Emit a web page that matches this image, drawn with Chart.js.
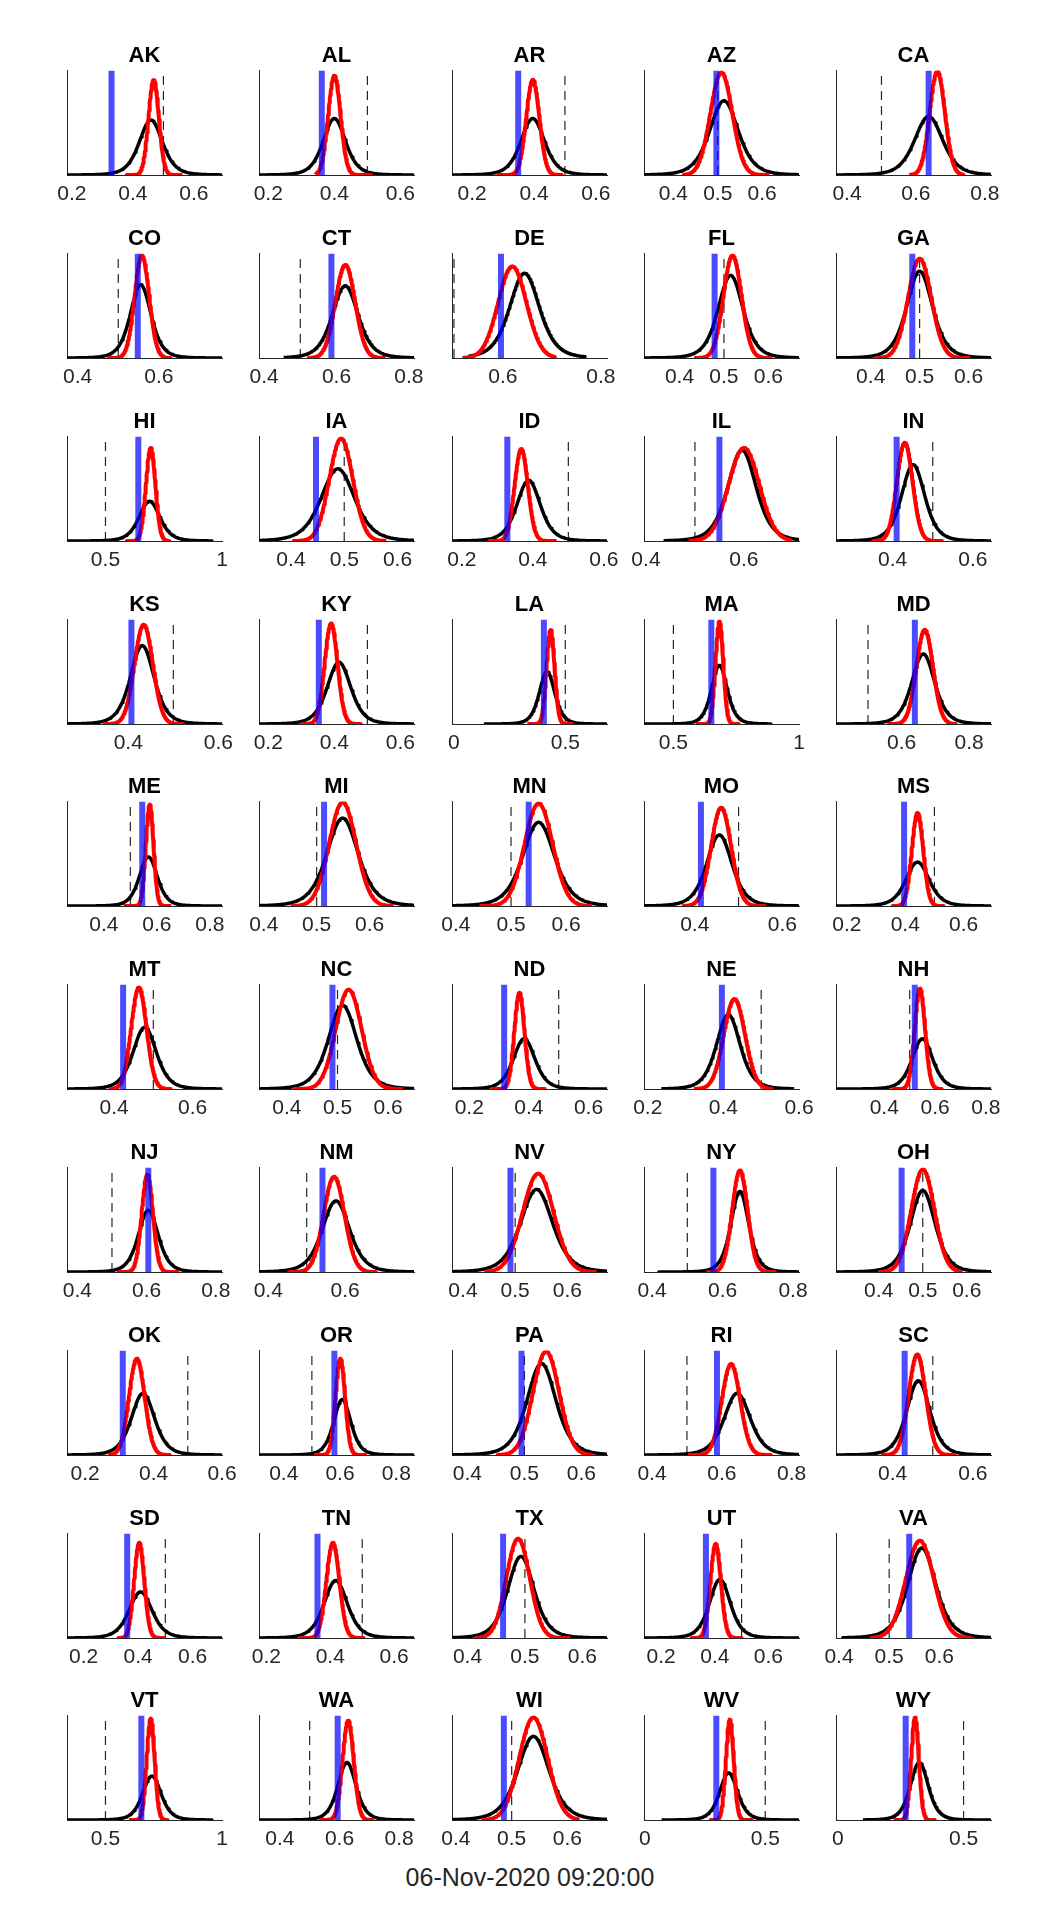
<!DOCTYPE html>
<html>
<head>
<meta charset="utf-8">
<script src="https://cdn.jsdelivr.net/npm/chart.js@4.4.0/dist/chart.umd.min.js"></script>
<style>
  body { margin: 0; background: #fff; }
  #page { position: relative; width: 1042px; height: 1929px; background: #fff; overflow: hidden; }
  #page canvas { position: absolute; }
  #stamp { position: absolute; left: 0; width: 1060px; top: 1863px; text-align: center;
           font: 25px Helvetica, Arial, "Liberation Sans", sans-serif; color: #262626; }
</style>
</head>
<body>
<div id="page"><div id="stamp">06-Nov-2020 09:20:00</div></div>
<script>
// ============================================================
// 50 small panels: red and black density curves per state,
// blue line = marker value, dashed line at 0.5
// ============================================================

const states = ["AK","AL","AR","AZ","CA","CO","CT","DE","FL","GA",
                "HI","IA","ID","IL","IN","KS","KY","LA","MA","MD",
                "ME","MI","MN","MO","MS","MT","NC","ND","NE","NH",
                "NJ","NM","NV","NY","OH","OK","OR","PA","RI","SC",
                "SD","TN","TX","UT","VA","VT","WA","WI","WV","WY"];

// x-axis limits and tick labels
const xMin = [0.184,0.172,0.135,0.334,0.368, 0.374,0.386,0.496,0.32,0.329,
              0.335,0.34,0.172,0.396,0.259, 0.264,0.172,-0.008,0.383,0.405,
              0.261,0.391,0.393,0.284,0.1625, 0.28,0.345,0.142,0.19,0.21,
              0.37,0.376,0.379,0.377,0.303, 0.147,0.312,0.373,0.377,0.259,
              0.139,0.177,0.373,0.136,0.394, 0.335,0.33,0.393,-0.003,-0.007];
const xMax = [0.692,0.641,0.636,0.683,0.818, 0.755,0.814,0.8125,0.669,0.646,
              1.0,0.631,0.609,0.7125,0.645, 0.608,0.641,0.687,1.0,0.865,
              0.846,0.684,0.674,0.638,0.694, 0.675,0.651,0.662,0.60,0.82,
              0.818,0.779,0.676,0.817,0.655, 0.60,0.863,0.645,0.821,0.645,
              0.708,0.662,0.643,0.714,0.703, 1.0,0.85,0.671,0.64,0.609];
const xTicks = [[0.2,0.4,0.6],[0.2,0.4,0.6],[0.2,0.4,0.6],[0.4,0.5,0.6],[0.4,0.6,0.8],
                [0.4,0.6],[0.4,0.6,0.8],[0.6,0.8],[0.4,0.5,0.6],[0.4,0.5,0.6],
                [0.5,1],[0.4,0.5,0.6],[0.2,0.4,0.6],[0.4,0.6],[0.4,0.6],
                [0.4,0.6],[0.2,0.4,0.6],[0,0.5],[0.5,1],[0.6,0.8],
                [0.4,0.6,0.8],[0.4,0.5,0.6],[0.4,0.5,0.6],[0.4,0.6],[0.2,0.4,0.6],
                [0.4,0.6],[0.4,0.5,0.6],[0.2,0.4,0.6],[0.2,0.4,0.6],[0.4,0.6,0.8],
                [0.4,0.6,0.8],[0.4,0.6],[0.4,0.5,0.6],[0.4,0.6,0.8],[0.4,0.5,0.6],
                [0.2,0.4,0.6],[0.4,0.6,0.8],[0.4,0.5,0.6],[0.4,0.6,0.8],[0.4,0.6],
                [0.2,0.4,0.6],[0.2,0.4,0.6],[0.4,0.5,0.6],[0.2,0.4,0.6],[0.4,0.5,0.6],
                [0.5,1],[0.4,0.6,0.8],[0.4,0.5,0.6],[0,0.5],[0,0.5]];

// blue marker line
const blueLine = [0.33,0.362,0.349,0.497,0.637, 0.548,0.586,0.596,0.479,0.485,
                  0.641,0.447,0.328,0.55,0.41, 0.407,0.353,0.404,0.651,0.639,
                  0.545,0.514,0.532,0.414,0.396, 0.423,0.49,0.317,0.396,0.52,
                  0.605,0.541,0.491,0.574,0.452, 0.31,0.58,0.495,0.586,0.43,
                  0.36,0.36,0.462,0.367,0.54, 0.654,0.594,0.486,0.297,0.27];

// red curve: centre, half width at half max, peak (share of axis height), drawn range
const redMean = [0.468,0.40,0.396,0.508,0.662, 0.558,0.624,0.619,0.519,0.50,
                 0.694,0.494,0.367,0.60,0.43, 0.434,0.39,0.434,0.683,0.668,
                 0.573,0.549,0.55,0.46,0.442, 0.463,0.522,0.368,0.429,0.54,
                 0.602,0.571,0.544,0.649,0.50, 0.351,0.601,0.538,0.626,0.461,
                 0.404,0.408,0.488,0.403,0.561, 0.694,0.629,0.539,0.353,0.307];
const redHalfWidth = [0.020,0.022,0.025,0.029,0.026, 0.021,0.032,0.034,0.024,0.028,
                      0.024,0.026,0.022,0.037,0.023, 0.024,0.023,0.021,0.018,0.029,
                      0.017,0.030,0.030,0.027,0.023, 0.023,0.030,0.020,0.033,0.024,
                      0.019,0.032,0.035,0.026,0.031, 0.027,0.020,0.027,0.031,0.025,
                      0.022,0.024,0.024,0.023,0.033, 0.020,0.022,0.030,0.019,0.018];
const redPeak = [0.91,0.95,0.91,0.98,0.99, 0.98,0.89,0.875,0.98,0.95,
                 0.89,0.98,0.88,0.89,0.94, 0.95,0.96,0.90,0.98,0.90,
                 0.97,0.99,0.98,0.94,0.89, 0.97,0.95,0.92,0.86,0.96,
                 0.93,0.91,0.94,0.97,0.98, 0.92,0.92,0.99,0.87,0.96,
                 0.91,0.91,0.95,0.90,0.93, 0.97,0.95,0.98,0.96,0.98];
const redFrom = [0.378,0.343,0.279,0.421,0.583, 0.475,0.522,0.519,0.434,0.41,
                 0.588,0.403,0.277,0.487,0.35, 0.345,0.303,0.33,0.59,0.559,
                 0.474,0.451,0.444,0.372,0.356, 0.39,0.412,0.272,0.322,0.43,
                 0.517,0.453,0.441,0.557,0.40, 0.27,0.51,0.452,0.503,0.373,
                 0.325,0.302,0.414,0.311,0.464, 0.601,0.536,0.446,0.272,0.222];
const redTo = [0.562,0.516,0.491,0.614,0.738, 0.63,0.734,0.706,0.607,0.602,
               0.774,0.576,0.467,0.694,0.524, 0.522,0.48,0.536,0.763,0.762,
               0.655,0.645,0.647,0.561,0.531, 0.545,0.63,0.453,0.528,0.626,
               0.694,0.68,0.653,0.748,0.588, 0.449,0.696,0.619,0.74,0.555,
               0.499,0.504,0.579,0.50,0.664, 0.766,0.711,0.62,0.452,0.39];

// black curve: centre, half width at half max, peak, drawn range
const blackMean = [0.459,0.40,0.396,0.514,0.637, 0.555,0.624,0.644,0.515,0.50,
                   0.689,0.488,0.388,0.596,0.451, 0.431,0.414,0.418,0.683,0.664,
                   0.568,0.549,0.55,0.456,0.442, 0.478,0.510,0.384,0.413,0.55,
                   0.605,0.576,0.541,0.649,0.50, 0.369,0.608,0.53,0.644,0.464,
                   0.409,0.417,0.493,0.419,0.565, 0.699,0.625,0.539,0.348,0.324];
const blackHalfWidth = [0.045,0.040,0.045,0.038,0.048, 0.030,0.042,0.036,0.033,0.031,
                        0.053,0.037,0.039,0.034,0.034, 0.031,0.042,0.041,0.037,0.040,
                        0.040,0.035,0.034,0.034,0.047, 0.035,0.033,0.043,0.037,0.048,
                        0.034,0.042,0.036,0.030,0.033, 0.040,0.036,0.030,0.044,0.034,
                        0.050,0.043,0.027,0.046,0.033, 0.047,0.036,0.033,0.044,0.042];
const blackPeak = [0.525,0.54,0.54,0.71,0.56, 0.70,0.69,0.81,0.79,0.83,
                   0.38,0.69,0.58,0.87,0.73, 0.75,0.59,0.50,0.56,0.67,
                   0.47,0.84,0.80,0.68,0.42, 0.59,0.80,0.48,0.71,0.48,
                   0.59,0.68,0.79,0.77,0.78, 0.59,0.53,0.875,0.59,0.71,
                   0.44,0.55,0.78,0.56,0.86, 0.42,0.55,0.80,0.45,0.55];
const blackFrom = [0.184,0.172,0.135,0.334,0.368, 0.374,0.454,0.53,0.32,0.329,
                   0.335,0.34,0.172,0.437,0.259, 0.264,0.172,0.135,0.383,0.405,
                   0.261,0.391,0.393,0.284,0.1625, 0.28,0.345,0.142,0.236,0.21,
                   0.37,0.376,0.379,0.417,0.303, 0.147,0.312,0.373,0.377,0.259,
                   0.139,0.177,0.373,0.136,0.406, 0.335,0.33,0.393,0.07,0.10];
const blackTo = [0.692,0.641,0.636,0.683,0.818, 0.755,0.814,0.77,0.669,0.646,
                 0.96,0.631,0.609,0.7125,0.645, 0.608,0.641,0.687,0.888,0.865,
                 0.846,0.684,0.674,0.638,0.694, 0.675,0.651,0.662,0.587,0.82,
                 0.818,0.779,0.676,0.817,0.655, 0.60,0.863,0.645,0.821,0.645,
                 0.708,0.662,0.643,0.714,0.703, 0.96,0.85,0.671,0.64,0.609];

const threshold = 0.5;

// ---------- Layout (page pixels) ----------
const COLS = 5;
const axisLeft0 = 67, colStep = 192.3;
const axisTop0 = 70.5, rowStep = 182.8;
const axisW = 155, axisH = 106;
const SIDE = 26, XAXIS_H = 40;
const FONT = "Helvetica, Arial, 'Liberation Sans', sans-serif";

// ---------- Curve shapes ----------
function normalCurve(mean, hw, peak, lo, hi) {
  const sd = hw / 1.1774;
  const pts = [];
  for (let i = 0; i <= 140; i++) {
    const x = lo + (hi - lo) * i / 140;
    const z = (x - mean) / sd;
    pts.push({ x, y: peak * Math.exp(-0.5 * z * z) });
  }
  return pts;
}
function heavyTailCurve(mean, hw, peak, lo, hi) {
  const nu = 5, s = hw / 1.14;
  const pts = [];
  for (let i = 0; i <= 180; i++) {
    const x = lo + (hi - lo) * i / 180;
    const z = (x - mean) / s;
    pts.push({ x, y: peak * Math.pow(1 + z * z / nu, -(nu + 1) / 2) });
  }
  return pts;
}

const page = document.getElementById("page");

states.forEach((st, i) => {
  const col = i % COLS, row = Math.floor(i / COLS);
  const L = axisLeft0 + col * colStep;
  const T = axisTop0 + row * rowStep;

  const canvas = document.createElement("canvas");
  canvas.width = axisW + 2 * SIDE;
  canvas.height = 174;
  page.appendChild(canvas);

  const ticks = xTicks[i];
  const datasets = [
    { data: [{ x: blueLine[i], y: 0 }, { x: blueLine[i], y: 1 }],
      borderColor: "rgba(0,0,255,0.7)", borderWidth: 6, order: 0 },
    { data: normalCurve(redMean[i], redHalfWidth[i], redPeak[i], redFrom[i], redTo[i]),
      borderColor: "#ff0000", borderWidth: 4, order: 1 },
    { data: heavyTailCurve(blackMean[i], blackHalfWidth[i], blackPeak[i], blackFrom[i], blackTo[i]),
      borderColor: "#000000", borderWidth: 3.5, order: 2 }
  ];
  if (threshold >= xMin[i] && threshold <= xMax[i]) {
    datasets.push({ data: [{ x: threshold, y: 0 }, { x: threshold, y: 1 }],
      borderColor: "#262626", borderWidth: 1.2, borderDash: [9, 6], order: 3 });
  }
  datasets.forEach(d => { d.pointRadius = 0; d.fill = false; d.tension = 0; d.borderJoinStyle = "round"; });

  const chart = new Chart(canvas, {
    type: "line",
    data: { datasets },
    options: {
      responsive: false,
      animation: false,
      events: [],
      layout: { padding: 0 },
      plugins: {
        legend: { display: false },
        tooltip: { enabled: false },
        title: { display: true, text: st, color: "#000",
                 font: { size: 22, weight: "bold", family: FONT }, padding: { top: 2, bottom: 1 } }
      },
      scales: {
        x: {
          type: "linear", min: xMin[i], max: xMax[i],
          afterBuildTicks: s => { s.ticks = ticks.map(v => ({ value: v })); },
          afterFit: s => { s.height = XAXIS_H; },
          ticks: { color: "#262626", font: { size: 21, family: FONT }, padding: 7,
                   maxRotation: 0, autoSkip: false, callback: v => String(v) },
          grid: { display: false, drawTicks: false },
          border: { display: true, color: "#262626", width: 1 }
        },
        y: {
          min: 0, max: 1, position: "left",
          afterFit: s => { s.width = SIDE; },
          ticks: { display: false },
          grid: { display: false, drawTicks: false },
          border: { display: true, color: "#262626", width: 1 }
        },
        yr: {
          min: 0, max: 1, position: "right",
          afterFit: s => { s.width = SIDE; },
          ticks: { display: false },
          grid: { display: false, drawTicks: false },
          border: { display: false }
        }
      }
    }
  });

  // put the plot area exactly on the grid slot
  const ca = chart.chartArea;
  canvas.style.left = (L - ca.left) + "px";
  canvas.style.top = (T - ca.top) + "px";
});
</script>
</body>
</html>
